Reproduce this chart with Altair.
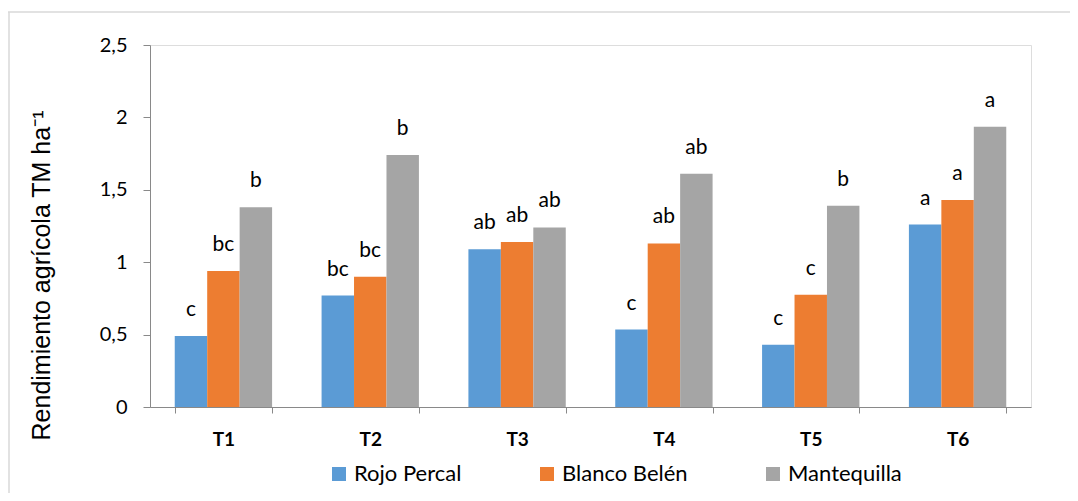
import altair as alt
import pandas as pd

treatments = ["T1", "T2", "T3", "T4", "T5", "T6"]
varieties = ["Rojo Percal", "Blanco Belén", "Mantequilla"]
rojo = [0.49, 0.77, 1.09, 0.535, 0.43, 1.26]
blanco = [0.94, 0.90, 1.14, 1.13, 0.775, 1.43]
mantequilla = [1.38, 1.74, 1.24, 1.61, 1.39, 1.935]
letters_rojo = ["c", "bc", "ab", "c", "c", "a"]
letters_blanco = ["bc", "bc", "ab", "ab", "c", "a"]
letters_mante = ["b", "b", "ab", "ab", "b", "a"]
colors = ["#5B9BD5", "#ED7D31", "#A5A5A5"]
y_ticks = [0, 0.5, 1, 1.5, 2, 2.5]

rows = []
for vals, lets, var in [(rojo, letters_rojo, varieties[0]),
                        (blanco, letters_blanco, varieties[1]),
                        (mantequilla, letters_mante, varieties[2])]:
    for t, v, l in zip(treatments, vals, lets):
        rows.append({"Tratamiento": t, "Variedad": var, "Rendimiento": v, "Letra": l})
df = pd.DataFrame(rows)

LF = "Lato"
base = alt.Chart(df).encode(
    x=alt.X("Tratamiento:N", sort=treatments,
            scale=alt.Scale(paddingInner=0.337, paddingOuter=0.1685),
            axis=alt.Axis(title=None, labelAngle=0, labelFont=LF, labelFontSize=19,
                          labelFontWeight="bold", labelColor="#000000",
                          domainColor="#898989", tickColor="#898989", tickSize=6,
                          tickBand="extent", labelPadding=17)),
    xOffset=alt.XOffset("Variedad:N", sort=varieties, scale=alt.Scale(paddingInner=0, paddingOuter=0)),
    y=alt.Y("Rendimiento:Q", scale=alt.Scale(domain=[0, 2.5], nice=False),
            axis=alt.Axis(values=y_ticks, grid=False, title="Rendimiento agrícola TM ha⁻¹",
                          titleFont="Liberation Sans", titleFontSize=25, titleFontWeight="normal",
                          titleColor="#000000", titleAngle=-90, titleX=-109, titleY=230,
                          titleAlign="center", titleBaseline="middle",
                          labelFont=LF, labelFontSize=20, labelColor="#000000",
                          labelExpr="replace(toString(datum.value), '.', ',')",
                          domainColor="#898989", tickColor="#898989", tickSize=7,
                          labelPadding=16)),
)

bars = base.mark_bar().encode(
    color=alt.Color("Variedad:N", sort=varieties,
                    scale=alt.Scale(domain=varieties, range=colors),
                    legend=alt.Legend(title=None, orient="none", direction="horizontal",
                                      legendX=178, legendY=418, symbolType="square",
                                      symbolSize=196, symbolStrokeWidth=0,
                                      labelFont=LF, labelFontSize=22, labelColor="#000000",
                                      columnPadding=74, labelOffset=4, labelLimit=300))
)

text = base.mark_text(baseline="alphabetic", dy=-20, font=LF, fontSize=21, color="#000000").encode(
    text="Letra:N"
)

frame = alt.Chart(pd.DataFrame({"k": [0]})).mark_rule(color="#D9D9D9", strokeWidth=1.5, clip=False).encode(
    x=alt.value(-142), x2=alt.value(930), y=alt.value(-33)
)
frame_left = alt.Chart(pd.DataFrame({"k": [0]})).mark_rule(color="#D9D9D9", strokeWidth=1.5, clip=False).encode(
    x=alt.value(-141), y=alt.value(-33), y2=alt.value(460)
)

chart = alt.layer(bars, text, frame, frame_left).properties(
    width=881, height=362,
    autosize=alt.AutoSizeParams(type="none"),
    padding={"left": 142, "top": 37, "right": 39, "bottom": 86},
).configure_view(stroke="#898989", strokeWidth=1.2).configure(background="white")

chart.save("out.html", embed_options={"renderer": "svg", "actions": False})
